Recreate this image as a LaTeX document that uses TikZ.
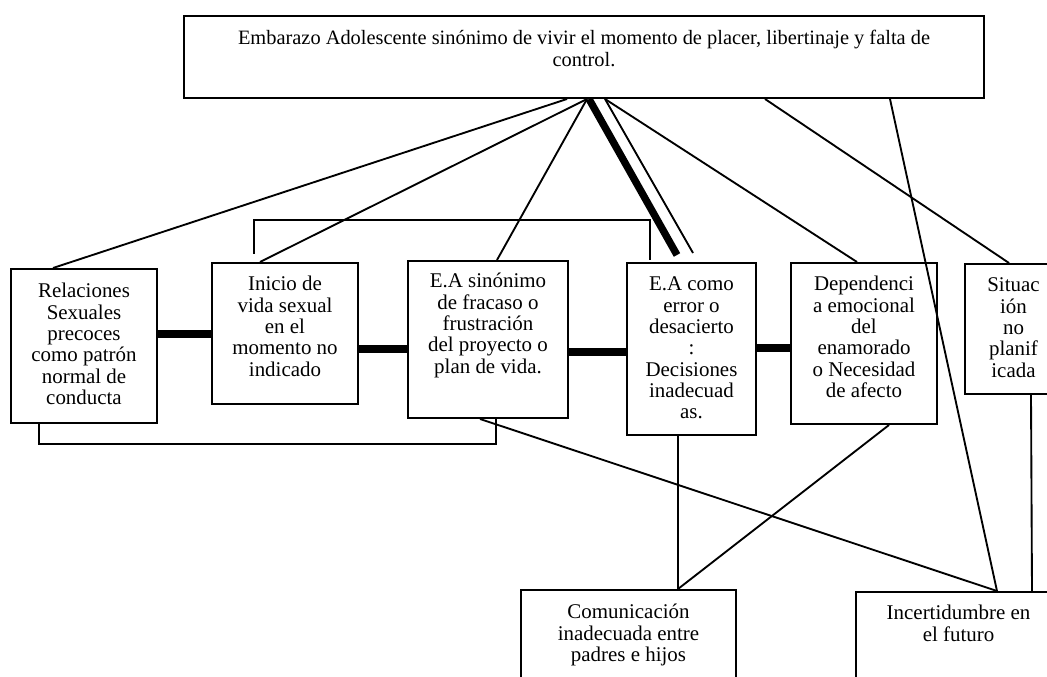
\documentclass[tikz,border=0pt]{standalone}
\usepackage{fontspec}
\setmainfont{Liberation Serif}
\usetikzlibrary{calc}
\newlength\px \setlength\px{0.75pt}
\newcommand\boxcontent[4]{\parbox[c][#2\px][t]{#1\px}{\centering\vspace*{#3\px}\strut #4}}
\begin{document}
\begin{tikzpicture}[x=0.75pt,y=-0.75pt,
  box/.style={draw, line width=1.5pt, inner sep=0pt, anchor=north west, font=\fontsize{15.7}{16}\selectfont},
  conn/.style={line width=1.4pt},
  heavy/.style={line width=5.5pt}]
\useasboundingbox (0,0) rectangle (1047,677);
\fill[white] (0,0) rectangle (1047,677);
\node[box, font=\fontsize{15.3}{16}\selectfont] (title) at (183,15) {\boxcontent{800}{82}{14}{Embarazo Adolescente sinónimo de vivir el momento de placer, libertinaje y falta de\\control.}};
\node[box] (rel) at (10,268) {\boxcontent{146}{154}{14}{Relaciones\\Sexuales\\precoces\\como patrón\\normal de\\conducta}};
\node[box] (ini) at (211,262) {\boxcontent{146}{141}{13}{Inicio de\\vida sexual\\en el\\momento no\\indicado}};
\node[box] (eas) at (407,260) {\boxcontent{160}{157}{12}{E.A sinónimo\\de fracaso o\\frustración\\del proyecto o\\plan de vida.}};
\node[box] (eae) at (626,262) {\boxcontent{129}{172}{13}{E.A como\\error o\\desacierto\\:\\Decisiones\\inadecuad\\as.}};
\node[box] (dep) at (790,262) {\boxcontent{146}{161}{13}{Dependenci\\a emocional\\del\\enamorado\\o Necesidad\\de afecto}};
\node[box] (sit) at (964,263) {\boxcontent{97}{130}{13}{Situac\\ión\\no\\planif\\icada}};
\node[box] (com) at (520,589) {\boxcontent{215}{120}{14}{Comunicación\\inadecuada entre\\padres e hijos}};
\node[box] (inc) at (855,591) {\boxcontent{205}{120}{13}{Incertidumbre en\\el futuro}};
% fan from title
\draw[conn] ($(title.south west)+(384,0)$) -- ($(rel.north west)+(43,0)$);
\draw[conn] ($(title.south west)+(404,0)$) -- ($(ini.north west)+(49,0)$);
\draw[conn] ($(title.south west)+(404,0)$) -- ($(eas.north west)+(90,0)$);
\draw[heavy] ($(title.south west)+(406,0)$) -- ($(eae.north west)+(51,-7)$);
\draw[conn] ($(title.south west)+(422,0)$) -- ($(eae.north west)+(67,-9)$);
\draw[conn] ($(title.south west)+(422,0)$) -- ($(dep.north west)+(67,0)$);
\draw[conn] ($(title.south west)+(582,0)$) -- ($(sit.north west)+(45,0)$);
\draw[conn] ($(title.south west)+(707,0)$) -- ($(inc.north west)+(142,0)$);
% brackets
\draw[conn] ($(ini.north west)+(43,-8)$) -- ++(0,-34) -| ($(eae.north west)+(24,-2)$);
\draw[conn] ($(rel.south west)+(29,0)$) -- ++(0,20) -| ($(eas.south west)+(89,0)$);
% heavy horizontals
\draw[heavy] ($(rel.north east)+(0,66)$) -- ($(ini.north west)+(0,72)$);
\draw[heavy] ($(ini.north east)+(0,87)$) -- ($(eas.north west)+(0,89)$);
\draw[heavy] ($(eas.north east)+(0,92)$) -- ($(eae.north west)+(0,90)$);
\draw[heavy] ($(eae.north east)+(0,86)$) -- ($(dep.north west)+(0,86)$);
% lower connectors
\draw[conn] ($(eae.south west)+(52,0)$) -- ($(com.north west)+(158,0)$);
\draw[conn] ($(dep.south west)+(99,0)$) -- ($(com.north west)+(158,0)$);
\draw[conn] ($(eas.south west)+(73,0)$) -- ($(inc.north west)+(142,0)$);
\draw[conn] ($(sit.south west)+(67,0)$) -- ($(inc.north west)+(177,0)$);
\end{tikzpicture}
\end{document}
